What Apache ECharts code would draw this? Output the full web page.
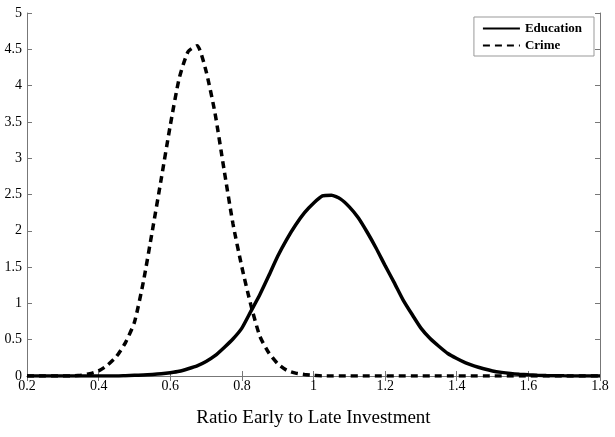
<!DOCTYPE html>
<html>
<head>
<meta charset="utf-8">
<script src="https://cdn.jsdelivr.net/npm/echarts@6/dist/echarts.min.js"></script>
<style>
html,body{margin:0;padding:0;background:#fff;}
#container{width:615px;height:437px;}
</style>
</head>
<body>
<div id="container"></div>
<script>
var xValues = [0.2,0.225,0.25,0.275,0.3,0.325,0.35,0.375,0.4,0.425,0.45,0.475,0.5,0.525,0.55,0.575,0.6,0.625,0.65,0.675,
	0.7,0.725,0.75,0.775,0.8,0.825,0.85,0.875,0.9,0.925,0.95,0.975,1.0,1.025,1.05,1.075,1.1,1.125,1.15,1.175,
	1.2,1.225,1.25,1.275,1.3,1.325,1.35,1.375,1.4,1.425,1.45,1.475,1.5,1.525,1.55,1.575,1.6,1.625,1.65,1.675,
	1.7,1.725,1.75,1.775,1.8];
var educationValues = [0,0,0,0,0,0,0,0,0,0,0,0.005,0.01,0.013,0.02,0.03,0.045,0.065,0.1,0.14,
	0.2,0.28,0.39,0.51,0.66,0.89,1.12,1.38,1.65,1.88,2.08,2.25,2.38,2.48,2.49,2.44,2.33,2.18,1.98,1.76,
	1.52,1.29,1.05,0.85,0.66,0.52,0.41,0.31,0.24,0.18,0.135,0.1,0.07,0.05,0.035,0.024,0.016,0.01,0.006,0.004,
	0.002,0.001,0,0,0];
var crimeValues = [0,0,0,0,0,0,0.01,0.03,0.07,0.15,0.27,0.46,0.74,1.3,2.0,2.72,3.45,4.1,4.47,4.55,
	4.2,3.62,2.85,2.1,1.5,0.98,0.55,0.32,0.17,0.08,0.04,0.02,0.01,0,0,0,0,0,0,0,
	0,0,0,0,0,0,0,0,0,0,0,0,0,0,0,0,0,0,0,0,
	0,0,0,0,0];

var toPairs = function(ys){
	var out = [];
	for (var i = 0; i < xValues.length; i++) {
		out.push([xValues[i], ys[i]]);
	}
	return out;
};

var dom = document.getElementById("container");
var myChart = echarts.init(dom);
var serif = "'Liberation Serif', 'DejaVu Serif', serif";
var axisColor = '#777';
var option = {
	animation: false,
	backgroundColor: '#fff',
	grid: {left: 27, right: 15, top: 13, bottom: 61},
	legend: {
		right: 21,
		top: 17,
		orient: 'vertical',
		itemWidth: 37,
		itemHeight: 10,
		itemGap: 4,
		padding: [5, 12, 4, 8],
		borderColor: '#999',
		borderWidth: 1,
		itemStyle: {opacity: 0},
		textStyle: {fontFamily: serif, fontWeight: 'bold', fontSize: 13, color: '#000'},
		data: ['Education', 'Crime']
	},
	xAxis: [{
		type: 'value',
		min: 0.2,
		max: 1.8,
		interval: 0.2,
		name: 'Ratio Early to Late Investment',
		nameLocation: 'middle',
		nameGap: 33,
		nameTextStyle: {fontFamily: serif, fontSize: 19, color: '#000'},
		axisLine: {onZero: false, lineStyle: {color: axisColor}},
		axisTick: {inside: true, length: 5, lineStyle: {color: axisColor}},
		axisLabel: {fontFamily: serif, fontSize: 14, color: '#000', margin: 3},
		splitLine: {show: false}
	}, {
		type: 'value',
		position: 'top',
		min: 0.2,
		max: 1.8,
		interval: 0.2,
		axisLine: {show: true, lineStyle: {color: axisColor}},
		axisTick: {inside: true, length: 5, lineStyle: {color: axisColor}},
		axisLabel: {show: false},
		splitLine: {show: false}
	}],
	yAxis: [{
		type: 'value',
		min: 0,
		max: 5,
		interval: 0.5,
		axisLine: {show: true, onZero: false, lineStyle: {color: axisColor}},
		axisTick: {show: true, inside: true, length: 5, lineStyle: {color: axisColor}},
		axisLabel: {fontFamily: serif, fontSize: 14, color: '#000', margin: 5},
		splitLine: {show: false}
	}, {
		type: 'value',
		position: 'right',
		min: 0,
		max: 5,
		interval: 0.5,
		axisLine: {show: true, lineStyle: {color: axisColor}},
		axisTick: {show: true, inside: true, length: 5, lineStyle: {color: axisColor}},
		axisLabel: {show: false},
		splitLine: {show: false}
	}],
	series: [{
		name: 'Education',
		type: 'line',
		showSymbol: false,
		symbol: 'none',
		smooth: 0.2,
		lineStyle: {color: '#000', width: 3.5},
		itemStyle: {color: '#000'},
		data: toPairs(educationValues),
		z: 3
	}, {
		name: 'Crime',
		type: 'line',
		showSymbol: false,
		symbol: 'none',
		smooth: 0.2,
		lineStyle: {color: '#000', width: 3.5, type: [7, 5]},
		itemStyle: {color: '#000'},
		data: toPairs(crimeValues),
		z: 2
	}]
};
myChart.setOption(option, true);
</script>
</body>
</html>
